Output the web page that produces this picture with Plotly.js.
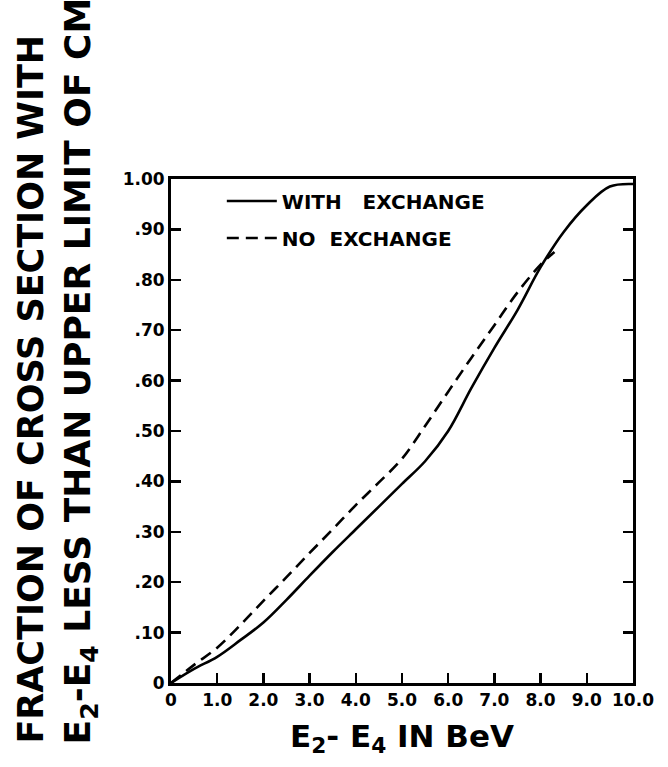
<!DOCTYPE html>
<html>
<head>
<meta charset="utf-8">
<script src="https://cdn.plot.ly/plotly-3.0.1.min.js"></script>
<style>html,body{margin:0;padding:0;background:#fff;}#chart{width:668px;height:767px;}</style>
</head>
<body>
<div id="chart"></div>
<script>
// E2 - E4 in BeV
const withX = [0, 0.5, 1.0, 1.5, 2.0, 2.5, 3.0, 3.5, 4.0, 4.5, 5.0, 5.5, 6.0, 6.5, 7.0, 7.5, 8.0, 8.5, 9.0, 9.5, 10.0];
const withY = [0, 0.028, 0.052, 0.085, 0.12, 0.165, 0.213, 0.26, 0.305, 0.35, 0.395, 0.44, 0.50, 0.585, 0.665, 0.74, 0.825, 0.895, 0.948, 0.985, 0.99];
const noX = [0, 0.5, 1.0, 1.5, 2.0, 2.5, 3.0, 3.5, 4.0, 4.5, 5.0, 5.5, 6.0, 6.5, 7.0, 7.5, 8.0, 8.3];
const noY = [0, 0.036, 0.07, 0.115, 0.163, 0.21, 0.258, 0.305, 0.353, 0.398, 0.445, 0.51, 0.578, 0.645, 0.71, 0.775, 0.83, 0.855];
const xTickVals = [0, 1, 2, 3, 4, 5, 6, 7, 8, 9, 10];
const xTickText = ["0", "1.0", "2.0", "3.0", "4.0", "5.0", "6.0", "7.0", "8.0", "9.0", "10.0"];
const yTickVals = [0, 0.1, 0.2, 0.3, 0.4, 0.5, 0.6, 0.7, 0.8, 0.9, 1.0];
const yTickText = ["0", ".10", ".20", ".30", ".40", ".50", ".60", ".70", ".80", ".90", "1.00"];
const seriesNames = ["WITH   EXCHANGE", "NO  EXCHANGE"];

const tickFont = {family: "DejaVu Sans", size: 17, color: "#000", weight: "bold"};

const traces = [
  {x: withX, y: withY, name: seriesNames[0], mode: "lines", legendgroup: "a",
   line: {color: "#000", width: 2.6, shape: "spline"}},
  {x: noX, y: noY, name: seriesNames[1], mode: "lines", legendgroup: "b",
   line: {color: "#000", width: 2.6, dash: "12px,7px", shape: "spline"}}
];

const layout = {
  width: 668, height: 767,
  margin: {l: 171, r: 35, t: 179, b: 84},
  paper_bgcolor: "#fff", plot_bgcolor: "#fff",
  showlegend: true,
  legend: {x: 0.11, y: 0.995, xanchor: "left", yanchor: "top", bgcolor: "rgba(0,0,0,0)",
           font: {family: "DejaVu Sans", size: 20, color: "#000", weight: "bold"},
           itemwidth: 50, traceorder: "grouped", tracegroupgap: 8},
  xaxis: {range: [0, 10], tickvals: xTickVals, ticktext: xTickText, tickfont: tickFont,
          showgrid: false, zeroline: false, showline: true, linecolor: "#000", linewidth: 3,
          mirror: true, ticks: "inside", ticklen: 10, tickwidth: 2.5, tickcolor: "#000",
          title: {text: "E<sub>2</sub>- E<sub>4</sub> IN BeV", standoff: 16,
                  font: {family: "DejaVu Sans", size: 31, color: "#000", weight: "bold"}}},
  yaxis: {range: [0, 1], tickvals: yTickVals, ticktext: yTickText, tickfont: tickFont,
          showgrid: false, zeroline: false, showline: true, linecolor: "#000", linewidth: 3,
          mirror: "ticks", ticks: "inside", ticklen: 10, tickwidth: 2.5, tickcolor: "#000"},
  annotations: [
    {xref: "paper", yref: "paper", x: -0.305, y: -0.125, xanchor: "center", yanchor: "bottom",
     textangle: -90, showarrow: false,
     text: "FRACTION OF CROSS SECTION WITH",
     font: {family: "DejaVu Sans", size: 35, color: "#000", weight: "bold"}},
    {xref: "paper", yref: "paper", x: -0.195, y: -0.125, xanchor: "center", yanchor: "bottom",
     textangle: -90, showarrow: false,
     text: "E<sub>2</sub>-E<sub>4</sub> LESS THAN UPPER LIMIT OF CM",
     font: {family: "DejaVu Sans", size: 36, color: "#000", weight: "bold"}}
  ]
};

Plotly.newPlot("chart", traces, layout, {displayModeBar: false, staticPlot: true});
</script>
</body>
</html>
